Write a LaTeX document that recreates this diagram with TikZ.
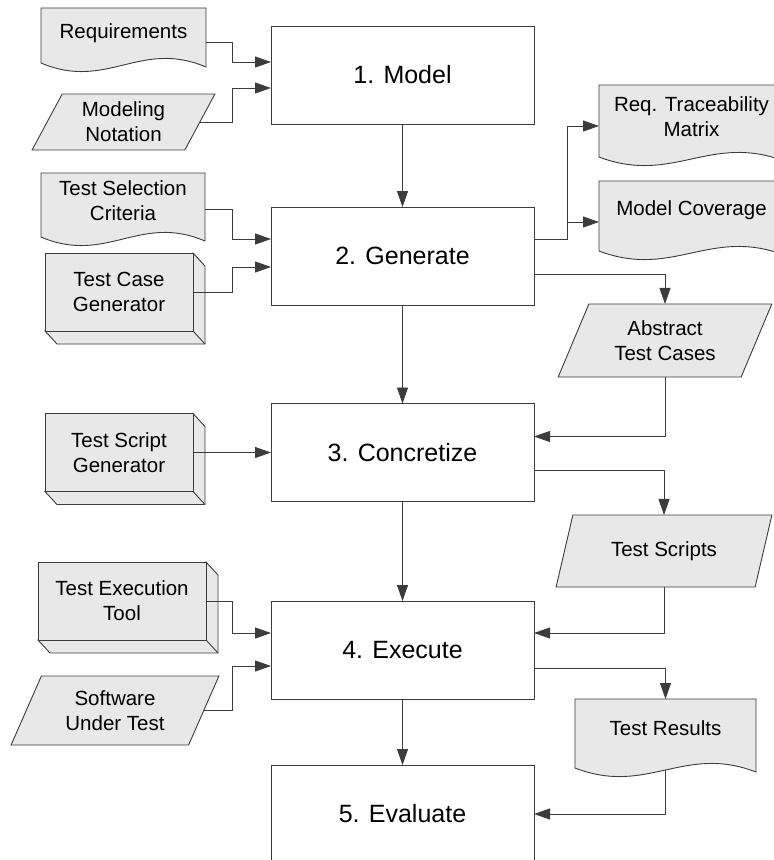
\documentclass[tikz,border=0pt]{standalone}
\usepackage{fontspec}
\setmainfont{Liberation Sans}
\usetikzlibrary{arrows.meta, shapes.geometric, calc, backgrounds}
\tikzset{>={Triangle[length=16pt, width=11pt]}}
\definecolor{linegray}{HTML}{3C3C3C}
\definecolor{shapegray}{HTML}{E8E8E8}
\newcommand*{\smallfont}{\fontsize{20.5}{25}\selectfont}
\newcommand*{\stagefont}{\fontsize{25}{30}\selectfont}
% document with a wavy bottom, #2 = how far the wave starts below the node
\newcommand*{\docshape}[2]{%
    \filldraw[shapeline](#1.north west)--(#1.north east)--($(#1.south east)+(0, #2+4)$)
        .. controls ($(#1.south east)!0.4!(#1.south west)+(0, #2-24)$)
        and ($(#1.south east)!0.6!(#1.south west)+(0, #2+28)$) .. ($(#1.south west)+(0, #2)$)--cycle;
    \coordinate (#1-b) at ($(#1.south)+(0, #2+2)$);}
% depth of a tool box
\newcommand*{\boxdepth}[1]{%
    \filldraw[shapeline](#1.north east)--++(12, 13)--($(#1.south east)+(12, 13)$)
        --($(#1.south west)+(12, 13)$)--(#1.south west)--(#1.south east)--cycle;
    \draw[shapeline](#1.south east)--++(12, 13);}

\begin{document}
\begin{tikzpicture}[x=1pt, y=-1pt,
    shapeline/.style={draw=linegray, fill=shapegray, line width=0.9pt},
    stage/.style={draw=linegray, fill=white, line width=0.9pt, minimum width=263pt, minimum height=98pt,
        inner sep=0pt, outer sep=0pt, font=\stagefont},
    doc/.style={inner sep=0pt, outer sep=0pt, align=center, font=\smallfont},
    para/.style={trapezium, trapezium left angle=63, trapezium right angle=117, trapezium stretches=true,
        draw=linegray, fill=shapegray, line width=0.9pt, inner sep=0pt, outer sep=0pt, align=center, font=\smallfont},
    tool/.style={draw=linegray, fill=shapegray, line width=0.9pt, minimum height=78pt,
        inner sep=0pt, outer sep=0pt, align=center, font=\smallfont},
    flow/.style={draw=linegray, line width=0.9pt, ->}]
    \useasboundingbox(0, 0) rectangle (774, 860);
    % stages
    \node[stage] (model) at (402.5, 75) {1. Model};
    \node[stage] (gen) at (402.5, 256) {2. Generate};
    \node[stage] (conc) at (402.5, 452.5) {3. Concretize};
    \node[stage] (exe) at (402.5, 650) {4. Execute};
    \node[stage] (eval) at (402.5, 814) {5. Evaluate};
    % inputs
    \node[doc, minimum width=165pt, minimum height=50pt] (req) at (123.5, 33) {Requirements};
    \node[para, minimum width=183pt, minimum height=56pt] (mn) at (123.5, 122) {Modeling\\Notation};
    \node[doc, minimum width=164pt, minimum height=55pt] (tsc) at (123, 200.5) {Test Selection\\Criteria};
    \node[tool, minimum width=148pt] (tcg) at (119, 292) {Test Case\\Generator};
    \node[tool, minimum width=148pt] (tsg) at (119, 452.5) {Test Script\\Generator};
    \node[tool, minimum width=168pt] (tet) at (122, 601) {Test Execution\\Tool};
    \node[para, minimum width=208pt, minimum height=69pt] (sut) at (115, 710.5) {Software\\Under Test};
    % outputs
    \node[doc, minimum width=185pt, minimum height=63pt] (rtm) at (691.5, 116.5) {Req. Traceability\\Matrix};
    \node[doc, minimum width=185pt, minimum height=58pt] (cov) at (691.5, 210) {Model Coverage};
    \node[para, minimum width=214pt, minimum height=73pt] (atc) at (665, 340.5) {Abstract\\Test Cases};
    \node[para, minimum width=216pt, minimum height=72pt] (ts) at (664, 551) {Test Scripts};
    \node[doc, minimum width=181pt, minimum height=58pt] (tr) at (665.5, 728) {Test Results};
    \begin{scope}[on background layer]
        \docshape{req}{5}
        \docshape{tsc}{9}
        \docshape{rtm}{9}
        \docshape{cov}{12}
        \docshape{tr}{11}
        \boxdepth{tcg}
        \boxdepth{tsg}
        \boxdepth{tet}
    \end{scope}
    % main flow
    \draw[flow](model.south)--(gen.north);
    \draw[flow](gen.south)--(conc.north);
    \draw[flow](conc.south)--(exe.north);
    \draw[flow](exe.south)--(eval.north);
    % inputs
    \draw[flow]($(req.east)+(0, 9)$)-|($(model.west)+(-39, -13)$)--($(model.west)+(0, -13)$);
    \draw[flow](mn.east)-|($(model.west)+(-39, 13)$)--($(model.west)+(0, 13)$);
    \draw[flow]($(tsc.east)+(0, 8.5)$)-|($(gen.west)+(-39, -17)$)--($(gen.west)+(0, -17)$);
    \draw[flow](tcg.east)-|($(gen.west)+(-39, 11)$)--($(gen.west)+(0, 11)$);
    \draw[flow](tsg.east)--(conc.west);
    \draw[flow](tet.east)-|($(exe.west)+(-39, -17)$)--($(exe.west)+(0, -17)$);
    \draw[flow](sut.east)-|($(exe.west)+(-39, 16)$)--($(exe.west)+(0, 16)$);
    % outputs
    \draw[flow]($(gen.east)+(0, -17)$)-|($(rtm.west)+(-32, 9.5)$)--($(rtm.west)+(0, 9.5)$);
    \draw[flow]($(gen.east)+(0, -17)$)-|($(cov.west)+(-32, 12)$)--($(cov.west)+(0, 12)$);
    \draw[flow]($(gen.east)+(0, 18)$)-|(atc.north);
    \draw[flow](atc.south)|-($(conc.east)+(0, -16)$);
    \draw[flow]($(conc.east)+(0, 18)$)-|(ts.north);
    \draw[flow](ts.south)|-($(exe.east)+(0, -17)$);
    \draw[flow]($(exe.east)+(0, 18)$)-|(tr.north);
    \draw[flow](tr-b)|-(eval.east);
\end{tikzpicture}
\end{document}
